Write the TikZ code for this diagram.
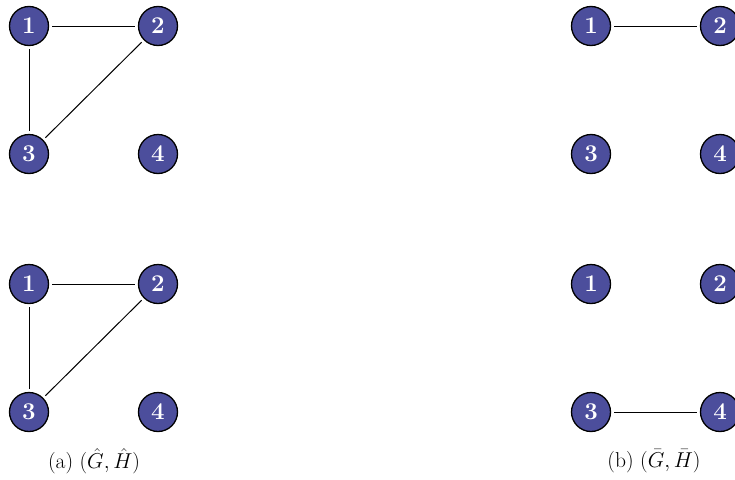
\RequirePackage{fix-cm}
\documentclass[tikz,border=0pt]{standalone}
\usepackage{amsmath,amssymb}
\usepackage{tikz}
\definecolor{vblue}{RGB}{76,78,156}
\tikzset{
  vtx/.style={circle, draw=black, line width=1.3pt, fill=vblue, text=white,
    inner sep=0pt, minimum size=39pt, font=\fontsize{24}{24}\selectfont\bfseries},
  edge/.style={line width=1pt, shorten <=3pt, shorten >=3pt},
  subcap/.style={font=\fontsize{21.5}{21.5}\selectfont}
}
\begin{document}
\begin{tikzpicture}[x=1pt,y=-1pt]
\useasboundingbox (0,0) rectangle (735,479);
\foreach \g/\x/\y in {a/29/26, b/29/284, c/591/26, d/591/284}
  \foreach \n/\dx/\dy in {1/0/0, 2/129/0, 3/0/128, 4/129/128}
    \node[vtx] (\g\n) at (\x+\dx,\y+\dy) {\n};
\draw[edge] (a1) -- (a2);
\draw[edge] (a1) -- (a3);
\draw[edge] (a2) -- (a3);
\draw[edge] (b1) -- (b2);
\draw[edge] (b1) -- (b3);
\draw[edge] (b2) -- (b3);
\draw[edge] (c1) -- (c2);
\draw[edge] (d3) -- (d4);
\node[subcap] (capa) at (94,461) {(a) $(\hat{G},\hat{H})$};
\node[subcap] (capb) at (654,461) {(b) $(\bar{G},\bar{H})$};
\end{tikzpicture}
\end{document}
